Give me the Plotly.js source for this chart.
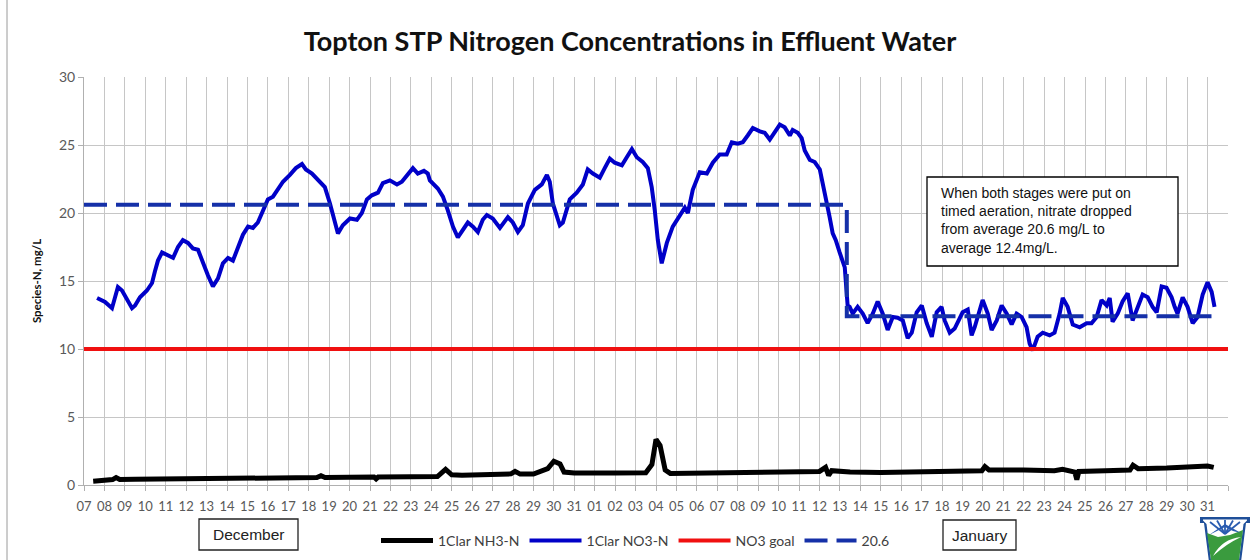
<!DOCTYPE html>
<html><head><meta charset="utf-8">
<script src="https://cdn.plot.ly/plotly-3.0.1.min.js"></script>
<style>html,body{margin:0;padding:0;background:#fff}#chart{width:1252px;height:560px}</style>
</head><body><div id="chart"></div>
<script>
// ---- DATA (x = days since 07 December) ----
const tickDays = [0,1,2,3,4,5,6,7,8,9,10,11,12,13,14,15,16,17,18,19,20,21,22,23,24,25,26,27,28,29,30,31,32,33,34,35,36,37,38,39,40,41,42,43,44,45,46,47,48,49,50,51,52,53,54,55,56];
const tickLabels = ["07","08","09","10","11","12","13","14","15","16","17","18","19","20","21","22","23","24","25","26","27","28","29","30","31",
  "01","02","03","04","05","06","07","08","09","10","11","12","13","14","15","16","17","18","19","20","21","22","23","24","25","26","27","28","29","30","31",""];

const no3Days = [0.64,1.03,1.37,1.66,1.86,2.10,2.35,2.50,2.74,3.08,3.33,3.47,3.62,3.82,4.06,4.36,4.60,4.84,5.09,5.33,5.58,5.82,6.07,6.31,6.56,6.80,7.05,7.29,7.54,7.78,8.03,8.27,8.51,8.76,9.00,9.25,9.49,9.74,10.08,10.37,10.67,10.86,11.16,11.35,11.55,11.79,12.04,12.28,12.43,12.67,13.02,13.36,13.60,13.85,14.09,14.39,14.63,14.97,15.32,15.56,15.85,16.10,16.34,16.64,16.83,16.93,17.32,17.57,17.81,18.06,18.30,18.55,18.79,19.04,19.28,19.52,19.72,20.01,20.36,20.75,20.99,21.24,21.48,21.73,22.07,22.41,22.66,22.80,22.95,23.29,23.44,23.78,24.12,24.42,24.66,24.91,25.25,25.49,25.74,25.98,26.33,26.57,26.82,27.06,27.35,27.60,27.79,27.94,28.09,28.28,28.53,28.82,29.16,29.41,29.56,29.80,30.14,30.49,30.78,31.12,31.46,31.71,32.00,32.25,32.49,32.74,33.08,33.32,33.57,33.81,34.06,34.30,34.55,34.69,34.94,35.13,35.28,35.53,35.77,36.02,36.16,36.36,36.50,36.65,36.80,36.99,37.14,37.24,37.29,37.34,37.38,37.48,37.63,37.87,38.12,38.36,38.61,38.85,39.10,39.34,39.59,39.83,40.08,40.32,40.52,40.76,41.01,41.25,41.50,41.74,41.98,42.13,42.38,42.62,42.87,43.01,43.26,43.45,43.60,43.84,43.99,44.24,44.43,44.68,44.92,45.17,45.41,45.65,45.90,46.14,46.29,46.44,46.68,46.93,47.27,47.51,47.76,47.91,48.15,48.40,48.74,49.08,49.32,49.57,49.81,50.06,50.21,50.35,50.60,50.84,51.09,51.33,51.58,51.82,52.07,52.31,52.51,52.75,52.99,53.24,53.39,53.53,53.78,54.02,54.27,54.51,54.76,55.00,55.20,55.34];
const no3Values = [13.75,13.46,13.0,14.56,14.3,13.6,13.0,13.2,13.8,14.3,14.85,15.7,16.5,17.1,16.9,16.7,17.5,18.0,17.8,17.4,17.3,16.3,15.4,14.6,15.2,16.3,16.7,16.5,17.5,18.4,19.0,18.9,19.3,20.2,21.0,21.2,21.7,22.3,22.8,23.3,23.6,23.2,22.9,22.6,22.3,21.9,20.7,19.3,18.5,19.1,19.6,19.5,20.0,21.0,21.3,21.5,22.2,22.4,22.1,22.3,22.8,23.3,22.9,23.1,22.9,22.4,21.8,21.2,20.2,19.0,18.2,18.75,19.3,19.0,18.6,19.5,19.85,19.6,18.9,19.7,19.3,18.6,19.1,20.7,21.7,22.1,22.8,22.3,20.7,19.1,19.3,21.0,21.5,22.1,23.2,22.9,22.6,23.3,24.0,23.7,23.5,24.1,24.7,24.1,23.75,23.3,21.9,20.2,18.0,16.3,17.8,19.0,19.85,20.4,20.0,21.7,23.0,22.9,23.7,24.3,24.3,25.2,25.1,25.2,25.7,26.25,26.0,25.9,25.4,26.0,26.5,26.3,25.7,26.1,25.9,25.5,24.6,23.9,23.75,23.2,22.2,21.0,19.7,18.5,18.0,17.1,16.5,16.0,15.0,13.8,13.2,13.1,12.6,13.1,12.6,11.9,12.6,13.5,12.6,11.4,12.35,12.3,12.1,10.8,11.2,12.7,13.2,11.9,10.9,12.7,13.1,12.1,11.2,11.5,12.35,12.7,12.9,11.0,11.6,12.7,13.6,12.6,11.4,12.1,13.2,12.6,11.8,12.6,12.35,11.6,10.4,9.9,10.9,11.2,11.0,11.2,12.6,13.75,13.1,11.8,11.6,11.9,11.9,12.35,13.6,13.2,13.75,12.0,12.6,13.5,14.1,12.1,13.1,14.0,13.8,13.1,12.7,14.6,14.5,13.8,13.1,12.6,13.8,13.1,11.9,12.35,14.0,14.9,14.2,13.1];

const nh3Days = [0.45,1.0,1.4,1.57,1.75,2.5,4,6,8,10,11.4,11.6,11.8,13,14.2,14.3,14.4,16,17.3,17.7,18.0,18.5,20,20.9,21.1,21.35,22,22.7,23.0,23.3,23.5,24,26,27.5,27.8,28.0,28.2,28.45,28.7,30,32,34,36.0,36.3,36.45,36.6,37.5,39,41,43,43.95,44.1,44.3,46,47.5,47.9,48.3,48.5,48.6,48.7,50,51.2,51.35,51.6,53,54.5,55.0,55.3];
const nh3Values = [0.28,0.35,0.4,0.55,0.4,0.42,0.45,0.48,0.5,0.52,0.55,0.68,0.55,0.57,0.58,0.45,0.58,0.6,0.62,1.15,0.75,0.72,0.78,0.82,1.0,0.8,0.8,1.2,1.75,1.55,0.95,0.88,0.88,0.9,1.5,3.35,2.9,1.1,0.85,0.88,0.92,0.97,1.0,1.3,0.7,1.05,0.95,0.92,0.95,1.0,1.05,1.35,1.1,1.1,1.05,1.15,1.0,0.95,0.4,1.0,1.05,1.1,1.45,1.2,1.25,1.3,1.4,1.3];

const goalDays = [0, 56];
const goalValues = [10, 10];

const avgDays = [0, 37.34, 37.34, 55.3];
const avgValues = [20.6, 20.6, 12.4, 12.4];

const seriesNames = ["1Clar NH3-N", "1Clar NO3-N", "NO3 goal", "20.6"];
const titleText = "Topton STP Nitrogen Concentrations in Effluent Water";
const yTitle = "Species-N, mg/L";
const noteLines = ["When both stages were put on", "timed aeration, nitrate dropped", "from average 20.6 mg/L to", "average 12.4mg/L."];
const monthLabels = ["December", "January"];

// ---- pixel -> paper helpers ----
const L = 84, R = 1228, T = 77, B = 485;
const px = x => (x - L) / (R - L);
const py = y => (B - y) / (B - T);
const P = (x, y) => px(x).toFixed(5) + ',' + py(y).toFixed(5);
const path = pts => 'M' + pts.map(p => P(p[0], p[1])).join(' L') + ' Z';

const traces = [
  {x: nh3Days, y: nh3Values, name: seriesNames[0], mode: 'lines', line: {color: '#000000', width: 5}},
  {x: no3Days, y: no3Values, name: seriesNames[1], mode: 'lines', line: {color: '#0000c8', width: 4}},
  {x: goalDays, y: goalValues, name: seriesNames[2], mode: 'lines', line: {color: '#f01010', width: 4}},
  {x: avgDays, y: avgValues, name: seriesNames[3], mode: 'lines', line: {color: '#1530a8', width: 4, dash: '23px,9px'}}
];

const shapes = [
  {type: 'line', xref: 'paper', yref: 'paper', x0: px(7), x1: px(7), y0: py(0), y1: py(560), line: {color: '#9a9a9a', width: 1}},
  {type: 'rect', xref: 'paper', yref: 'paper', x0: px(927), x1: px(1178), y0: py(177), y1: py(266), line: {color: '#000', width: 1.3}, fillcolor: '#ffffff', layer: 'above'},
  {type: 'rect', xref: 'paper', yref: 'paper', x0: px(199), x1: px(298), y0: py(519), y1: py(550), line: {color: '#222', width: 1.3}, fillcolor: '#ffffff'},
  {type: 'rect', xref: 'paper', yref: 'paper', x0: px(943), x1: px(1016), y0: py(520), y1: py(550), line: {color: '#222', width: 1.3}, fillcolor: '#ffffff'},
  {type: 'path', xref: 'paper', yref: 'paper', path: path([[1200,517],[1250,517],[1250,523],[1246,523],[1241,562],[1209,562],[1204,523],[1200,523]]), fillcolor: '#1f4f99', line: {width: 0}},
  {type: 'path', xref: 'paper', yref: 'paper', path: path([[1203,519.5],[1247,519.5],[1247,520.5],[1243.5,524],[1239,560],[1211,560],[1206.5,524],[1203,520.5]]), fillcolor: '#ffffff', line: {width: 0}},
  {type: 'path', xref: 'paper', yref: 'paper', path: path([[1207,533],[1218,537],[1230,535],[1243,530],[1239,560],[1211,560]]), fillcolor: '#3a9b3e', line: {width: 0}},
  {type: 'path', xref: 'paper', yref: 'paper', path: 'M' + P(1213,556) + ' Q' + P(1222,539) + ' ' + P(1241,537) + ' Q' + P(1226,544) + ' ' + P(1213,556) + ' Z', fillcolor: '#ffffff', line: {width: 0}},
  {type: 'path', xref: 'paper', yref: 'paper', path: 'M' + P(1209,535) + ' L' + P(1225,524) + ' L' + P(1241,533) + ' L' + P(1233,531) + ' L' + P(1225,527) + ' L' + P(1217,531) + ' Z', fillcolor: '#2a5cb0', line: {width: 0}}
];
[[1225,534,1210,522],[1225,534,1217,520.5],[1225,534,1225,520],[1225,534,1233,520.5],[1225,534,1240,522]].forEach(r => {
  shapes.push({type: 'line', xref: 'paper', yref: 'paper', x0: px(r[0]), y0: py(r[1]), x1: px(r[2]), y1: py(r[3]), line: {color: '#2a5cb0', width: 1.8}});
});

const annotations = [
  {xref: 'paper', yref: 'paper', x: px(939), y: py(220.5), xanchor: 'left', yanchor: 'middle', align: 'left', showarrow: false,
   text: noteLines.join('<br>'), font: {family: 'Liberation Sans, Arial, sans-serif', size: 14, color: '#111'}},
  {xref: 'paper', yref: 'paper', x: px(248.5), y: py(534.5), xanchor: 'center', yanchor: 'middle', showarrow: false,
   text: monthLabels[0], font: {family: 'Liberation Sans, Arial, sans-serif', size: 15.5, color: '#222'}},
  {xref: 'paper', yref: 'paper', x: px(979.5), y: py(535), xanchor: 'center', yanchor: 'middle', showarrow: false,
   text: monthLabels[1], font: {family: 'Liberation Sans, Arial, sans-serif', size: 15.5, color: '#222'}}
];

const layout = {
  width: 1252, height: 560,
  margin: {l: L, r: 1252 - R, t: T, b: 560 - B, pad: 0, autoexpand: false},
  paper_bgcolor: '#ffffff', plot_bgcolor: '#ffffff',
  font: {family: 'Lato, sans-serif', color: '#595959'},
  showlegend: true,
  title: {text: '<b>' + titleText + '</b>', font: {family: 'Lato, sans-serif', size: 27, color: '#111'},
          xref: 'container', x: 630 / 1252, xanchor: 'center', yref: 'container', y: 1 - 42 / 560, yanchor: 'middle'},
  xaxis: {range: [0, 56], tickmode: 'array', tickvals: tickDays, ticktext: tickLabels, tickangle: 0,
          showgrid: true, gridcolor: '#c6c6c6', gridwidth: 1, zeroline: false,
          showline: true, linecolor: '#b0b0b0', linewidth: 1,
          ticks: 'outside', ticklen: 5, tickcolor: '#b0b0b0', ticklabelstandoff: 4,
          tickfont: {family: 'Lato, sans-serif', size: 13, color: '#595959'}, fixedrange: true},
  yaxis: {range: [0, 30], tickmode: 'linear', tick0: 0, dtick: 5,
          showgrid: true, gridcolor: '#c6c6c6', gridwidth: 1, zeroline: false,
          showline: true, linecolor: '#b0b0b0', linewidth: 1,
          ticks: 'outside', ticklen: 5, tickcolor: '#b0b0b0',
          tickfont: {family: 'Lato, sans-serif', size: 14, color: '#595959'},
          title: {text: '<b>' + yTitle + '</b>', font: {family: 'Lato, sans-serif', size: 11.5, color: '#111'}, standoff: 14},
          fixedrange: true},
  legend: {orientation: 'h', xref: 'paper', yref: 'paper', x: px(376), xanchor: 'left', y: py(541), yanchor: 'middle',
           font: {family: 'Lato, sans-serif', size: 14, color: '#404040'}, itemwidth: 52, bgcolor: 'rgba(0,0,0,0)', traceorder: 'normal'},
  shapes: shapes,
  annotations: annotations
};

Plotly.newPlot('chart', traces, layout, {displayModeBar: false, staticPlot: true});
</script>
</body></html>
